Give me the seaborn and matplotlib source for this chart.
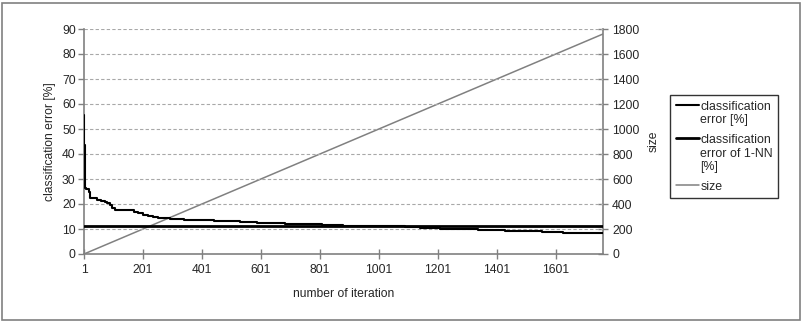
import numpy as np
import pandas as pd
import matplotlib
matplotlib.use("Agg")
import matplotlib.pyplot as plt
import seaborn as sns
from matplotlib.patches import Rectangle

# ---- data ----
err_iter = [1, 2, 3, 5, 8, 18, 23, 45, 60, 72, 80, 88, 96, 105, 156, 170, 185,
            201, 218, 235, 252, 270, 292, 340, 393, 440, 484, 529, 586, 681,
            806, 878, 1088, 1139, 1207, 1336, 1427, 1553, 1624, 1760]
err_val = [55.5, 43.5, 30.5, 26.4, 26.0, 25.0, 22.3, 21.8, 21.3, 21.0, 20.3,
           19.5, 18.5, 17.5, 17.5, 16.8, 16.3, 15.7, 15.3, 14.8, 14.6, 14.3,
           14.0, 13.8, 13.6, 13.4, 13.2, 12.8, 12.5, 12.0, 11.7, 11.3, 10.9,
           10.5, 10.0, 9.6, 9.2, 8.8, 8.6, 8.6]
nn_iter = [1, 1760]
nn_val = [11.2, 11.2]
size_iter = [1, 1760]
size_val = [0, 1760]
xtick_labels = [1, 201, 401, 601, 801, 1001, 1201, 1401, 1601]
labels = ["classification\nerror [%]", "classification\nerror of 1-NN\n[%]", "size"]

sns.set_style("white")
plt.rcParams['font.family'] = ['Liberation Sans', 'DejaVu Sans']
fs = 8.7

fig = plt.figure(figsize=(8.03, 3.22), dpi=100)
ax = fig.add_axes([84/803, 1-254/322, (603-84)/803, (254-29)/322])
ax2 = ax.twinx()

gray = "#808080"
df_err = pd.DataFrame({"it": err_iter, "v": err_val})
df_nn = pd.DataFrame({"it": nn_iter, "v": nn_val})
df_size = pd.DataFrame({"it": size_iter, "v": size_val})

sns.lineplot(data=df_err, x="it", y="v", ax=ax, color="black", lw=1.5,
             drawstyle="steps-post", label=labels[0], legend=False, zorder=4)
sns.lineplot(data=df_nn, x="it", y="v", ax=ax, color="black", lw=2.0,
             label=labels[1], legend=False, zorder=3)
sns.lineplot(data=df_size, x="it", y="v", ax=ax2, color=gray, lw=1.1,
             label=labels[2], legend=False, zorder=2)

ax.set_xlim(1, 1760)
ax.set_ylim(0, 90)
ax2.set_ylim(0, 1800)
ax.set_xticks(xtick_labels)
ax.set_xticklabels([str(v) for v in xtick_labels], fontsize=fs)
ax.set_yticks(np.arange(0, 91, 10))
ax.set_yticklabels([str(v) for v in range(0, 91, 10)], fontsize=fs)
ax2.set_yticks(np.arange(0, 1801, 200))
ax2.set_yticklabels([str(v) for v in range(0, 1801, 200)], fontsize=fs)

for y in range(10, 91, 10):
    ax.axhline(y, color="#a8a8a8", lw=0.8, ls=(0, (3, 2)), zorder=1)

ax.set_xlabel("number of iteration", fontsize=fs, labelpad=8)
ax.set_ylabel("classification error [%]", fontsize=fs, labelpad=4)
ax2.set_ylabel("size", fontsize=fs, labelpad=6)

for a in (ax, ax2):
    a.spines['top'].set_visible(False)
    for s in ('left', 'right', 'bottom'):
        a.spines[s].set_color(gray)
        a.spines[s].set_linewidth(1.2)
ax.spines['right'].set_visible(False)
ax2.spines['left'].set_visible(False)
ax2.spines['bottom'].set_visible(False)
ax.tick_params(axis='y', direction='out', length=4, color=gray, width=1, pad=2, left=True)
ax.tick_params(axis='x', direction='inout', length=7, color=gray, width=1, pad=4, bottom=True)
ax2.tick_params(axis='y', direction='inout', length=7, color=gray, width=1, pad=3, right=True)
ax.set_zorder(ax2.get_zorder() + 1)
ax.patch.set_visible(False)

h1, l1 = ax.get_legend_handles_labels()
h2, l2 = ax2.get_legend_handles_labels()
leg = fig.legend(h1 + h2, l1 + l2, loc="upper left",
                 bbox_to_anchor=(670/803, 1-95/322), fontsize=fs + 0.2,
                 frameon=True, fancybox=False, edgecolor="black",
                 handlelength=1.9, handletextpad=0.1, labelspacing=0.6,
                 borderpad=0.45, borderaxespad=0)
leg.get_frame().set_linewidth(1.0)
for col in leg._legend_handle_box.get_children():
    for entry in col.get_children():
        entry.align = "top"

fig.patches.append(Rectangle((2/803, 2/322), 798/803, 317/322, transform=fig.transFigure,
                             fill=False, edgecolor=gray, lw=1.2))
fig.savefig("out.png", dpi=100)
